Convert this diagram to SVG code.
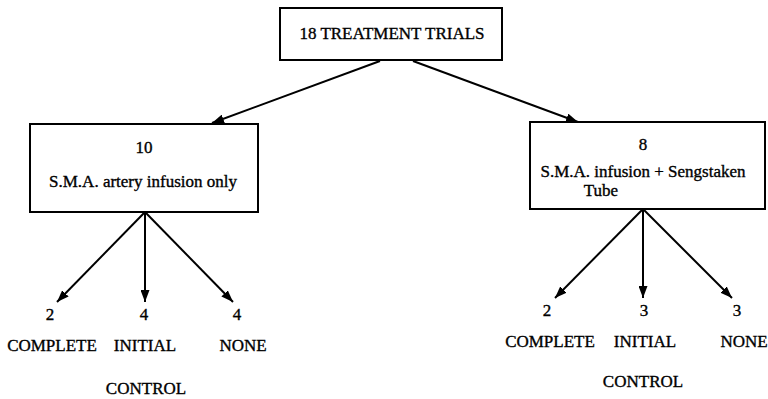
<svg xmlns="http://www.w3.org/2000/svg" width="768" height="399" viewBox="0 0 768 399">
<defs>
<marker id="arr" viewBox="0 0 12 9" refX="12" refY="4.5" markerWidth="12" markerHeight="9" markerUnits="userSpaceOnUse" orient="auto">
<path d="M0,0 L12,4.5 L0,9 z" fill="#000"/>
</marker>
<style>
.box{fill:#fff;stroke:#000;stroke-width:2}
.t{font-family:"Liberation Serif","Times New Roman",serif;font-size:17px;fill:#000;stroke:#000;stroke-width:0.35;text-anchor:middle}
.c{stroke:#000;stroke-width:2;fill:none;marker-end:url(#arr)}
</style>
</defs>
<rect width="768" height="399" fill="#fff"/>
<g id="connectors">
<line class="c" x1="380" y1="61" x2="212" y2="123"/>
<line class="c" x1="413" y1="61" x2="578" y2="122"/>
<line class="c" x1="145" y1="212" x2="57" y2="302"/>
<line class="c" x1="145" y1="212" x2="145" y2="302"/>
<line class="c" x1="145" y1="212" x2="233" y2="302"/>
<line class="c" x1="643" y1="209" x2="555" y2="298"/>
<line class="c" x1="643" y1="209" x2="643" y2="298"/>
<line class="c" x1="643" y1="209" x2="732" y2="298"/>
</g>
<g id="root">
<rect class="box" x="280" y="8" width="222" height="52"/>
<text class="t" x="392" y="39">18 TREATMENT TRIALS</text>
</g>
<g id="left">
<rect class="box" x="30" y="124" width="228" height="88"/>
<text class="t" x="144" y="153">10</text>
<text class="t" x="143" y="187">S.M.A. artery infusion only</text>
</g>
<g id="right">
<rect class="box" x="530" y="122" width="235" height="87"/>
<text class="t" x="643" y="150">8</text>
<text class="t" x="643" y="177">S.M.A. infusion + Sengstaken</text>
<text class="t" x="601" y="196">Tube</text>
</g>
<g id="left-complete">
<text class="t" x="50" y="320">2</text>
<text class="t" x="52" y="351">COMPLETE</text>
</g>
<g id="left-initial">
<text class="t" x="144" y="320">4</text>
<text class="t" x="145" y="351">INITIAL</text>
<text class="t" x="146" y="394">CONTROL</text>
</g>
<g id="left-none">
<text class="t" x="237" y="320">4</text>
<text class="t" x="243" y="351">NONE</text>
</g>
<g id="right-complete">
<text class="t" x="547" y="316">2</text>
<text class="t" x="550" y="347">COMPLETE</text>
</g>
<g id="right-initial">
<text class="t" x="644" y="316">3</text>
<text class="t" x="645" y="347">INITIAL</text>
<text class="t" x="643" y="387">CONTROL</text>
</g>
<g id="right-none">
<text class="t" x="737" y="316">3</text>
<text class="t" x="744" y="347">NONE</text>
</g>
</svg>
